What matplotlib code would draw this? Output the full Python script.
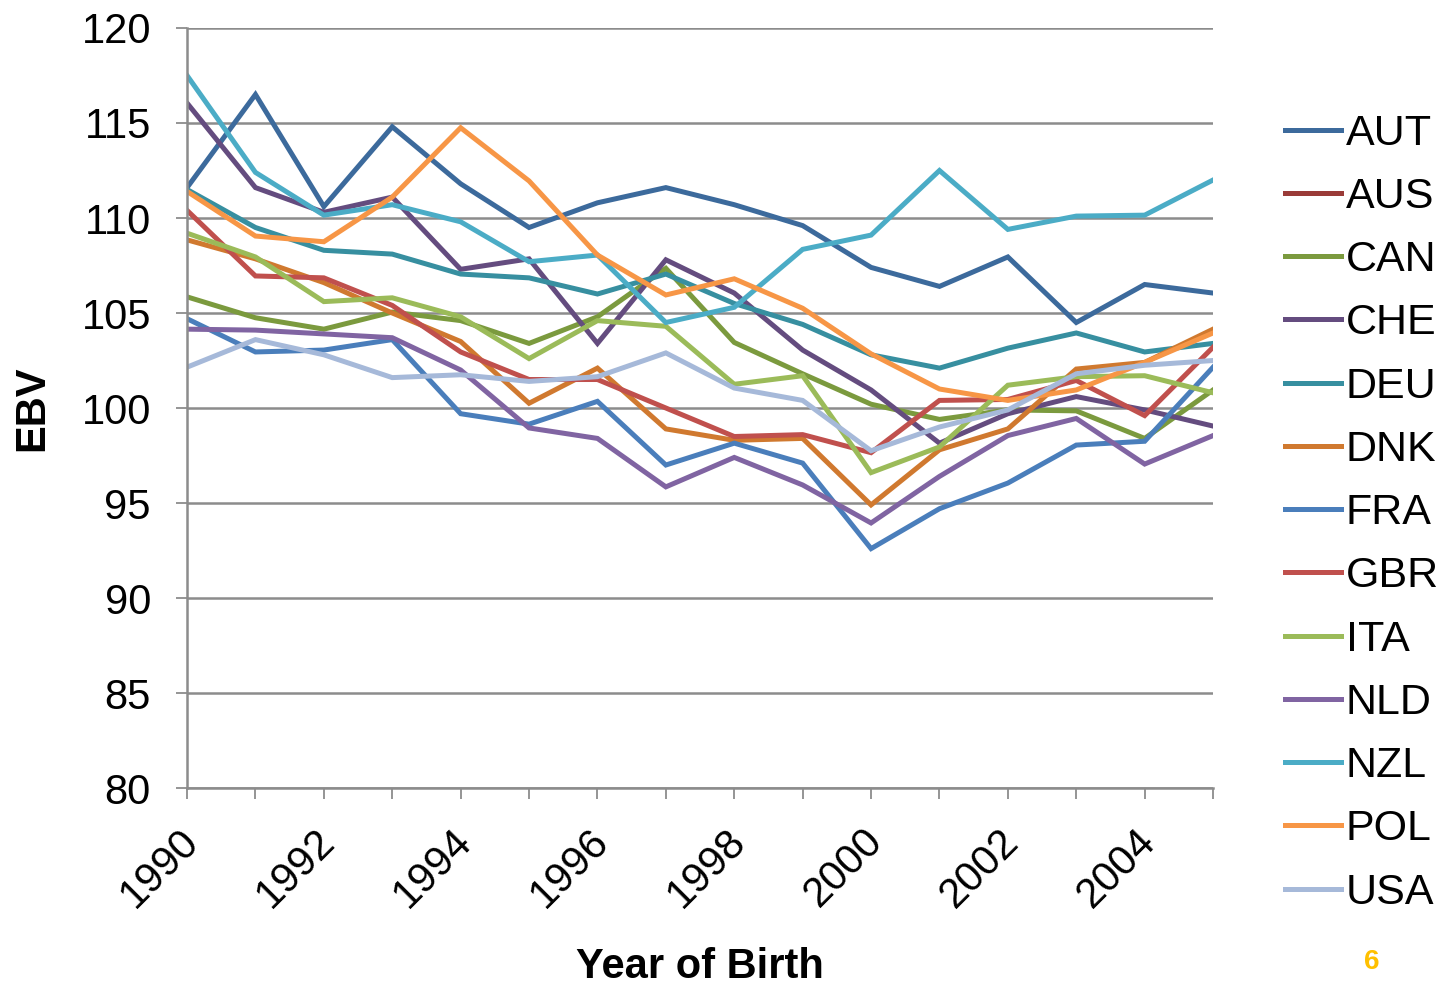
import numpy as np
import matplotlib
matplotlib.use('Agg')
import matplotlib.pyplot as plt
import matplotlib.transforms as mtransforms

plt.rcParams['font.family'] = ['Liberation Sans', 'DejaVu Sans']

years = list(range(1990, 2006))

# EBV per year of birth
aut = [111.6, 116.5, 110.6, 114.8, 111.8, 109.5, 110.8, 111.6, 110.7, 109.6, 107.4, 106.4, 107.95, 104.5, 106.5, 106.05]
aus = [np.nan] * 16
can = [105.85, 104.75, 104.15, 105.05, 104.6, 103.4, 104.8, 107.35, 103.45, 101.8, 100.2, 99.4, 99.9, 99.85, 98.4, 100.95]
che = [116.05, 111.6, 110.3, 111.1, 107.3, 107.85, 103.4, 107.8, 106.05, 103.05, 100.95, 98.15, 99.7, 100.6, 99.9, 99.05]
deu = [111.5, 109.5, 108.3, 108.1, 107.05, 106.85, 106.0, 107.05, 105.5, 104.4, 102.8, 102.1, 103.15, 103.95, 102.95, 103.4]
dnk = [108.85, 107.85, 106.6, 105.0, 103.5, 100.25, 102.1, 98.9, 98.3, 98.4, 94.9, 97.8, 98.9, 102.05, 102.4, 104.15]
fra = [104.7, 102.95, 103.05, 103.6, 99.7, 99.15, 100.35, 97.0, 98.15, 97.1, 92.6, 94.7, 96.05, 98.05, 98.25, 102.15]
gbr = [110.4, 106.95, 106.85, 105.4, 102.95, 101.5, 101.5, 100.0, 98.5, 98.6, 97.65, 100.4, 100.45, 101.45, 99.6, 103.2]
ita = [109.2, 107.95, 105.6, 105.8, 104.8, 102.6, 104.6, 104.3, 101.25, 101.7, 96.6, 97.95, 101.2, 101.65, 101.7, 100.8]
nld = [104.15, 104.1, 103.9, 103.7, 102.0, 98.95, 98.4, 95.85, 97.4, 95.95, 93.95, 96.4, 98.55, 99.45, 97.05, 98.55]
nzl = [117.5, 112.4, 110.15, 110.7, 109.8, 107.7, 108.05, 104.5, 105.3, 108.35, 109.1, 112.5, 109.4, 110.1, 110.15, 112.0]
pol = [111.4, 109.05, 108.75, 111.1, 114.75, 111.95, 108.05, 105.95, 106.8, 105.25, 102.85, 101.0, 100.4, 100.95, 102.4, 103.95]
usa = [102.15, 103.6, 102.8, 101.6, 101.75, 101.4, 101.65, 102.9, 101.05, 100.4, 97.75, 99.0, 99.9, 101.8, 102.25, 102.5]

countries = ['AUT', 'AUS', 'CAN', 'CHE', 'DEU', 'DNK', 'FRA', 'GBR', 'ITA', 'NLD', 'NZL', 'POL', 'USA']
series = [aut, aus, can, che, deu, dnk, fra, gbr, ita, nld, nzl, pol, usa]
colors = ['#3C6A9C', '#9A3B38', '#7B9A3E', '#644C7F', '#378FA0', '#D0792F', '#4A7EBB',
          '#C0504D', '#9BBB59', '#8064A2', '#4BACC6', '#F79646', '#A6B9D9']

fig = plt.figure(figsize=(14.5, 9.89), dpi=100)
ax = fig.add_axes([0.129, 0.2032, 0.7076, 0.7685])

for name, vals, c in zip(countries, series, colors):
    ax.plot(years, vals, color=c, lw=3.6, label=name, solid_joinstyle='miter')

ax.set_xlim(1990, 2005)
ax.set_ylim(80, 120)
ax.set_yticks(range(80, 121, 5))
ax.set_xticks(years)
ax.set_xticklabels([str(y) if y % 2 == 0 else '' for y in years],
                   rotation=45, ha='right', rotation_mode='anchor')
ax.grid(axis='y', color='#8C8C8C', lw=1.8)
ax.set_axisbelow(True)

for s in ['top', 'right']:
    ax.spines[s].set_visible(False)
for s in ['left', 'bottom']:
    ax.spines[s].set_color('#8C8C8C')
    ax.spines[s].set_linewidth(1.8)

ax.tick_params(axis='both', colors='#8C8C8C', length=8, width=1.3, labelcolor='black', labelsize=30)
ax.tick_params(axis='y', pad=18)
ax.tick_params(axis='x', pad=10)

# nudge the slanted year labels down-left like the original
shift = mtransforms.ScaledTranslation(-0.09, -0.08, fig.dpi_scale_trans)
for lab in ax.get_xticklabels():
    lab.set_transform(lab.get_transform() + shift)

ax.set_ylabel('EBV', fontsize=30, fontweight='bold')
ax.yaxis.set_label_coords(-0.131, 0.5)
ax.set_xlabel('Year of Birth', fontsize=30, fontweight='bold')
ax.xaxis.set_label_coords(0.5, -0.209)

fig.legend(loc='upper left', bbox_to_anchor=(0.886, 0.885), bbox_transform=fig.transFigure,
           frameon=False, fontsize=31, handlelength=1.3, handletextpad=0.12,
           labelspacing=0.54, borderpad=0, borderaxespad=0)

fig.text(0.946, 0.0273, '6', color='#FFC000', fontsize=20, fontweight='bold', ha='center', va='center')

fig.savefig('out.png', dpi=100)
